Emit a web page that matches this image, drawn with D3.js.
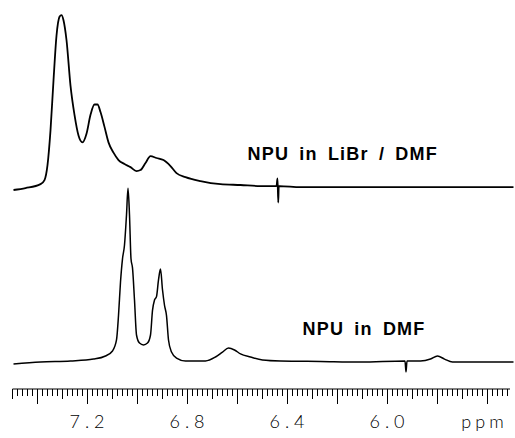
<!DOCTYPE html>
<html>
<head>
<meta charset="utf-8">
<script src="https://cdn.jsdelivr.net/npm/d3@7/dist/d3.min.js"></script>
<style>
  html, body { margin: 0; padding: 0; background: #fff; }
  svg { display: block; }
</style>
</head>
<body>
<svg id="chart" width="515" height="438"></svg>
<script>
// ---- data (chemical shift in ppm, relative intensity) ----
const librPpm = [7.496,7.448,7.388,7.372,7.36,7.348,7.336,7.324,7.312,7.304,7.296,7.284,7.268,7.252,7.236,7.22,7.204,7.188,7.172,7.16,7.148,7.132,7.116,7.096,7.076,7.052,7.028,7.004,6.988,6.968,6.948,6.924,6.896,6.868,6.844,6.808,6.748,6.668,6.588,6.508,6.444,6.440,6.437,6.435,6.432,6.348,6.148,5.948,5.748,5.496];
const librInt = [-1.7,-0.6,1.7,4.1,12.8,33,62,88,99,100,97,85.5,59,42,30,26,31,42,48,48,43.6,35,26,20,15.7,13.4,11.6,9.3,9.9,14,18,16.9,15.7,12.2,8.1,5.8,3.5,1.7,1.2,0.6,0.6,5,-9,0.6,0.6,0,0,0,0,0];

const dmfPpm = [7.496,7.388,7.268,7.176,7.128,7.1,7.084,7.076,7.068,7.06,7.052,7.044,7.038,7.032,7.026,7.02,7.012,7.004,6.992,6.976,6.96,6.948,6.94,6.932,6.924,6.916,6.908,6.9,6.892,6.884,6.876,6.864,6.844,6.808,6.728,6.688,6.66,6.636,6.612,6.588,6.548,6.5,6.428,6.268,6.108,5.93,5.926,5.922,5.868,5.828,5.8,5.772,5.74,5.496];
const dmfInt = [-1.2,0,0.6,1.7,3.5,6.4,12.8,27,46.5,60,68,85.5,101,85.5,60,54.7,36,15.7,11,9.9,11,15.7,30,36,38,47.7,54,42,33,27,12.8,5.8,2.3,0.6,0.6,2.9,5.8,8.1,7,4.7,2.9,1.2,0.6,0.3,0,0.6,-5.8,0.6,0.6,1.7,3.5,1.7,0,0];

const traceNames = ["NPU in LiBr / DMF", "NPU in DMF"];
const traceOffsets = [101.7, 0];
const labelPpm = [6.56, 6.34];
const tickLabels = ["7.2", "6.8", "6.4", "6.0"];
const unitLabel = "ppm";

// ---- layout ----
const svg = d3.select("#chart");
const x = d3.scaleLinear().domain([7.5, 5.5]).range([12.5, 512.5]);
const y = d3.scaleLinear().domain([0, 100]).range([362, 190]);

const traces = [
  { ppm: librPpm, val: librInt, off: traceOffsets[0], w: 1.8 },
  { ppm: dmfPpm, val: dmfInt, off: traceOffsets[1], w: 1.5 }
];

const line = d3.line()
  .x(d => x(d[0]))
  .y(d => y(d[1]))
  .curve(d3.curveMonotoneX);

traces.forEach(t => {
  const pts = t.ppm.map((p, i) => [p, t.val[i] + t.off]);
  svg.append("path")
    .attr("d", line(pts))
    .attr("fill", "none")
    .attr("stroke", "#000")
    .attr("stroke-width", t.w)
    .attr("stroke-linejoin", "round");
});

// labels
const labFont = "Liberation Sans, Arial, sans-serif";
svg.append("text")
  .attr("x", x(labelPpm[0])).attr("y", y(traceOffsets[0] + 15.5))
  .attr("font-family", labFont)
  .attr("font-weight", "bold").attr("font-size", 18)
  .attr("letter-spacing", 1.2).attr("word-spacing", 4)
  .text(traceNames[0]);

svg.append("text")
  .attr("x", x(labelPpm[1])).attr("y", y(15.5))
  .attr("font-family", labFont)
  .attr("font-weight", "bold").attr("font-size", 18)
  .attr("letter-spacing", 1.2).attr("word-spacing", 4)
  .text(traceNames[1]);

// ---- axis ----
const axisY = 389;
const ax = svg.append("g");
ax.append("line")
  .attr("x1", x(7.5)).attr("x2", x(5.51))
  .attr("y1", axisY).attr("y2", axisY)
  .attr("stroke", "#000").attr("stroke-width", 1);

const minorTicks = d3.range(0, 100).map(i => +(7.5 - i * 0.02).toFixed(2)).filter(v => v >= 5.51);
ax.selectAll("line.tick").data(minorTicks).join("line")
  .attr("class", "tick")
  .attr("x1", d => x(d)).attr("x2", d => x(d))
  .attr("y1", axisY)
  .attr("y2", d => {
    const k = Math.round(d * 100);
    if (k % 20 === 0) return axisY + 15;
    if (k % 10 === 0) return axisY + 10;
    return axisY + 7;
  })
  .attr("stroke", "#000").attr("stroke-width", 1);

const lblFont = "Lato, DejaVu Sans, sans-serif";
ax.selectAll("text.tl").data(tickLabels).join("text")
  .attr("class", "tl")
  .attr("x", d => x(+d) + 2)
  .attr("y", 428)
  .attr("text-anchor", "middle")
  .attr("font-family", lblFont).attr("font-weight", 300)
  .attr("font-size", 18).attr("letter-spacing", 5)
  .attr("fill", "#000")
  .text(d => d);

ax.append("text")
  .attr("x", x(5.6) - 3).attr("y", 428)
  .attr("text-anchor", "middle")
  .attr("font-family", lblFont).attr("font-weight", 300)
  .attr("font-size", 18).attr("letter-spacing", 4)
  .attr("fill", "#000")
  .text(unitLabel);
</script>
</body>
</html>
